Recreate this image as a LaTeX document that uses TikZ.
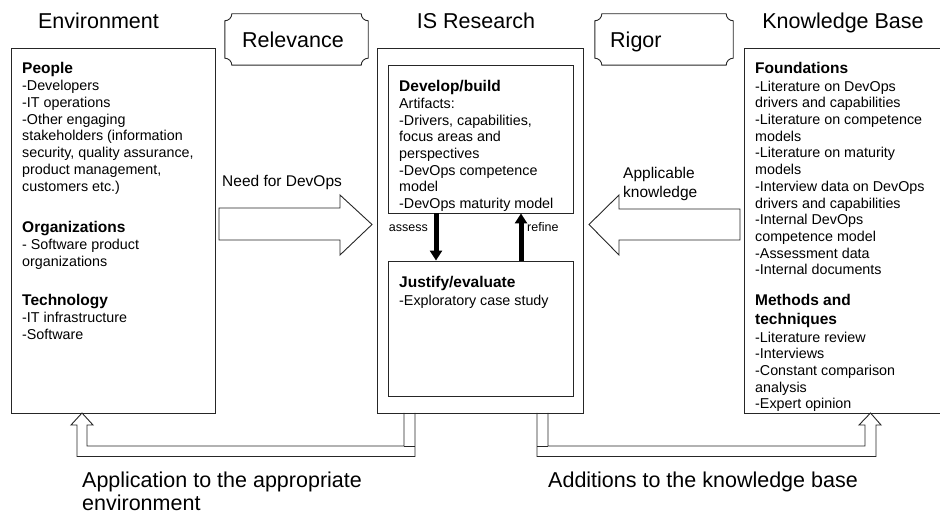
\documentclass[tikz,border=0pt]{standalone}
\usepackage{fontspec}
\setmainfont{Liberation Sans}
\usetikzlibrary{arrows.meta}
\newcommand\topstrutx{\rule{0pt}{12pt}}
\newcommand\hdx{\fontsize{15.5}{16.7}\selectfont\bfseries}
\newcommand\plaquex[1]{%
  \draw[outl] ([xshift=7pt]#1.north west) -- ([xshift=-7pt]#1.north east)
  .. controls ([xshift=-7pt,yshift=-3.9pt]#1.north east) and ([xshift=-3.9pt,yshift=-7pt]#1.north east) .. ([yshift=-7pt]#1.north east)
  -- ([yshift=7pt]#1.south east)
  .. controls ([xshift=-3.9pt,yshift=7pt]#1.south east) and ([xshift=-7pt,yshift=3.9pt]#1.south east) .. ([xshift=-7pt]#1.south east)
  -- ([xshift=7pt]#1.south west)
  .. controls ([xshift=7pt,yshift=3.9pt]#1.south west) and ([xshift=3.9pt,yshift=7pt]#1.south west) .. ([yshift=7pt]#1.south west)
  -- ([yshift=-7pt]#1.north west)
  .. controls ([xshift=3.9pt,yshift=-7pt]#1.north west) and ([xshift=7pt,yshift=-3.9pt]#1.north west) .. cycle;}
\begin{document}
\begin{tikzpicture}[x=1pt,y=-1pt,
  box/.style={draw=black!85, line width=0.9pt, inner sep=0pt},
  ghost/.style={inner sep=0pt},
  ttl/.style={font=\fontsize{21.5}{24}\selectfont, inner sep=0pt},
  lbl/.style={font=\fontsize{15.5}{19}\selectfont, inner sep=0pt},
  sml/.style={font=\fontsize{12.5}{14}\selectfont, inner sep=0pt},
  bodytxt/.style={font=\fontsize{14.3}{16.7}\selectfont, align=left, inner sep=0pt, anchor=north west},
  outl/.style={draw=black!85, line width=0.9pt, line join=miter},
  fatarrow/.style={draw=black, line width=5pt, -{Triangle[width=12pt,length=10pt]}}
]
\useasboundingbox (0,0) rectangle (940,518);

% main boxes
\node[box, minimum width=204pt, minimum height=365pt] (env) at (113,230.5) {};
\node[box, minimum width=206pt, minimum height=365pt] (isr) at (480,230.5) {};
\node[box, minimum width=185pt, minimum height=148pt] (dev) at (480.5,139) {};
\node[box, minimum width=185pt, minimum height=135pt] (jus) at (480.5,328.5) {};
\node[box, minimum width=199pt, minimum height=365pt] (kb) at (843.5,230.5) {};

% plaques
\node[ghost, minimum width=143pt, minimum height=51pt] (rel) at (296.5,39.5) {};
\node[ghost, minimum width=138pt, minimum height=51pt] (rig) at (664,39.5) {};
\plaquex{rel}
\plaquex{rig}

% titles
\node[ttl, anchor=base] (tenv) at (98.5,28.5) {Environment};
\node[ttl, anchor=base] (tisr) at (476,28.5) {IS Research};
\node[ttl, anchor=base] (tkb) at (843,28.5) {Knowledge Base};
\node[ttl, anchor=base west] (trel) at (242,47.5) {Relevance};
\node[ttl, anchor=base west] (trig) at (610,47.5) {Rigor};

% environment contents
\node[bodytxt] (ppl) at (22,61.5) {\topstrutx{\hdx People}\\[0.5pt]
-Developers\\ -IT operations\\ -Other engaging\\ stakeholders (information\\
security, quality assurance,\\ product management,\\ customers etc.)};
\node[bodytxt] (org) at (22,220.5) {\topstrutx{\hdx Organizations}\\[0.3pt]
- Software product\\ organizations};
\node[bodytxt] (tec) at (22,293.5) {\topstrutx{\hdx Technology}\\[0.3pt]
-IT infrastructure\\ -Software};

% IS research contents
\node[bodytxt] (tdev) at (399,79.5) {\topstrutx{\hdx Develop/build}\\
Artifacts:\\ -Drivers, capabilities,\\ focus areas and\\ perspectives\\
-DevOps competence\\ model\\ -DevOps maturity model};
\node[bodytxt] (tjus) at (399,275.5) {\topstrutx{\hdx Justify/evaluate}\\[0.8pt]
-Exploratory case study};

% knowledge base contents
\node[bodytxt] (fnd) at (755,61.5) {\topstrutx{\hdx Foundations}\\[0.8pt]
-Literature on DevOps\\ drivers and capabilities\\ -Literature on competence\\
models\\ -Literature on maturity\\ models\\ -Interview data on DevOps\\
drivers and capabilities\\ -Internal DevOps\\ competence model\\
-Assessment data\\ -Internal documents};
\node[bodytxt] (mth) at (755,293.5) {\topstrutx{\hdx Methods and}\\[2.3pt]
{\hdx techniques}\\[0.8pt] -Literature review\\ -Interviews\\
-Constant comparison\\ analysis\\ -Expert opinion};

% big hollow arrows
\draw[outl] (219,208) -- (340,208) -- (340,195) -- (372,224.5) -- (340,255)
  -- (340,240) -- (219,240) -- cycle;
\node[lbl, anchor=base west] (tneed) at (222,187) {Need for DevOps};
\draw[outl] (740,209) -- (619,209) -- (619,195) -- (589,224.5) -- (619,255)
  -- (619,240) -- (740,240) -- cycle;
\node[lbl, anchor=north west, align=left] (tappk) at (623,166) {\topstrutx Applicable\\ knowledge};

% assess / refine
\draw[fatarrow] ([xshift=-44.5pt]dev.south) -- ([xshift=-44.5pt]jus.north);
\draw[fatarrow] ([xshift=40.5pt]jus.north) -- ([xshift=40.5pt]dev.south);
\node[sml, anchor=base east] (tass) at (428,232) {assess};
\node[sml, anchor=base west] (tref) at (527,232) {refine};

% feedback hollow connectors
\draw[outl] (404,413) -- (404,446) -- (87,446) -- (87,425) -- (93,425) -- (82,413)
  -- (71,425) -- (77,425) -- (77,456.5) -- (415,456.5) -- (415,413);
\draw[outl] (404,446) -- (415,446);
\draw[outl] (548,413) -- (548,446) -- (865,446) -- (865,425) -- (859,425) -- (870.5,413)
  -- (881,425) -- (876,425) -- (876,456.5) -- (537,456.5) -- (537,413);
\draw[outl] (537,446) -- (548,446);

\node[ttl, anchor=north west, align=left, font=\fontsize{21.5}{23}\selectfont] (tapl) at (82,471.5)
  {\rule{0pt}{16pt}Application to the appropriate\\ environment};
\node[ttl, anchor=base west] (tadd) at (548,487.5) {Additions to the knowledge base};
\end{tikzpicture}
\end{document}
